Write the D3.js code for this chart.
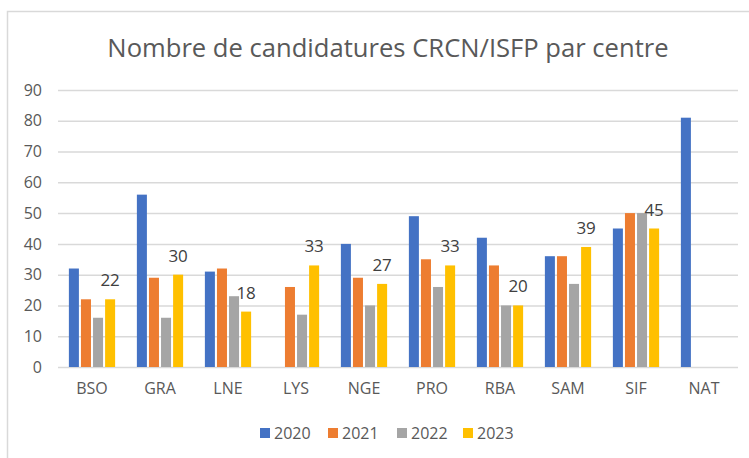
<!DOCTYPE html>
<html>
<head>
<meta charset="utf-8">
<script src="https://cdn.jsdelivr.net/npm/d3@7"></script>
<style>
  body { margin: 0; background: #fff; }
  svg { display: block; font-family: "Open Sans", "Noto Sans", sans-serif; }
</style>
</head>
<body>
<svg id="chart" width="749" height="458"></svg>
<script>
// Données
var centres = ['BSO', 'GRA', 'LNE', 'LYS', 'NGE', 'PRO', 'RBA', 'SAM', 'SIF', 'NAT'];
var annees = ['2020', '2021', '2022', '2023'];
var v2020 = [32, 56, 31, null, 40, 49, 42, 36, 45, 81];
var v2021 = [22, 29, 32, 26, 29, 35, 33, 36, 50, null];
var v2022 = [16, 16, 23, 17, 20, 26, 20, 27, 50, null];
var v2023 = [22, 30, 18, 33, 27, 33, 20, 39, 45, null];
var yTicks = [0, 10, 20, 30, 40, 50, 60, 70, 80, 90];
var couleurs = ['#4472C4', '#ED7D31', '#A5A5A5', '#FFC000'];

var series = [v2020, v2021, v2022, v2023];

var svg = d3.select('#chart');

// Cadre
svg.append('path')
  .attr('d', 'M7.5,470 L7.5,11.5 L760,11.5')
  .attr('fill', 'none')
  .attr('stroke', '#D9D9D9')
  .attr('stroke-width', 1.5);

// Titre
svg.append('text')
  .attr('x', 388)
  .attr('y', 57)
  .attr('text-anchor', 'middle')
  .attr('fill', '#595959')
  .style('font-size', '25.6px')
  .text('Nombre de candidatures CRCN/ISFP par centre');

// Echelles
var x0 = d3.scaleBand()
  .domain(centres)
  .range([58, 738])
  .paddingInner(0.32)
  .paddingOuter(0.16);

var x1 = d3.scaleBand()
  .domain(annees)
  .range([0, x0.bandwidth()])
  .paddingInner(0.17);

var y = d3.scaleLinear()
  .domain([0, 90])
  .range([367, 90]);

// Grille
var grid = svg.append('g')
  .attr('transform', 'translate(58,0)')
  .call(d3.axisLeft(y).tickValues(yTicks).tickSize(-680).tickFormat(''));
grid.select('.domain').remove();
grid.selectAll('line').attr('stroke', '#D9D9D9').attr('stroke-width', 1.5);

// Axe Y
var yAxis = svg.append('g')
  .attr('transform', 'translate(42,0)')
  .call(d3.axisLeft(y).tickValues(yTicks).tickSize(0).tickPadding(0));
yAxis.select('.domain').remove();
yAxis.selectAll('text')
  .attr('fill', '#595959')
  .style('font-size', '16px')
  .style('font-family', '"Open Sans", sans-serif');

// Axe X
var xAxis = svg.append('g')
  .attr('transform', 'translate(0,367)')
  .call(d3.axisBottom(x0).tickSize(0).tickPadding(16));
xAxis.select('.domain').remove();
xAxis.selectAll('text')
  .attr('fill', '#595959')
  .style('font-size', '16px')
  .style('font-family', '"Open Sans", sans-serif');

// Barres
var groupes = svg.append('g')
  .selectAll('g')
  .data(centres)
  .join('g')
  .attr('transform', function(d) { return 'translate(' + x0(d) + ',0)'; });

groupes.selectAll('rect')
  .data(function(d, i) {
    return annees.map(function(a, j) { return { annee: a, idx: j, valeur: series[j][i] }; })
      .filter(function(e) { return e.valeur != null; });
  })
  .join('rect')
  .attr('x', function(d) { return x1(d.annee); })
  .attr('y', function(d) { return y(d.valeur); })
  .attr('width', x1.bandwidth())
  .attr('height', function(d) { return y(0) - y(d.valeur); })
  .attr('fill', function(d) { return couleurs[d.idx]; });

// Etiquettes 2023
groupes.selectAll('text.lbl')
  .data(function(d, i) { return v2023[i] == null ? [] : [v2023[i]]; })
  .join('text')
  .attr('class', 'lbl')
  .attr('x', x1('2023') + x1.bandwidth() / 2)
  .attr('y', function(d) { return y(d) - 13; })
  .attr('text-anchor', 'middle')
  .attr('fill', '#404040')
  .style('font-size', '17px')
  .text(function(d) { return d; });

// Légende
var legende = svg.append('g');
var lx = [260, 328, 397, 463];
annees.forEach(function(a, i) {
  legende.append('rect')
    .attr('x', lx[i])
    .attr('y', 428)
    .attr('width', 10)
    .attr('height', 10)
    .attr('fill', couleurs[i]);
  legende.append('text')
    .attr('x', lx[i] + 14)
    .attr('y', 439)
    .attr('fill', '#595959')
    .style('font-size', '16px')
    .text(a);
});
</script>
</body>
</html>
